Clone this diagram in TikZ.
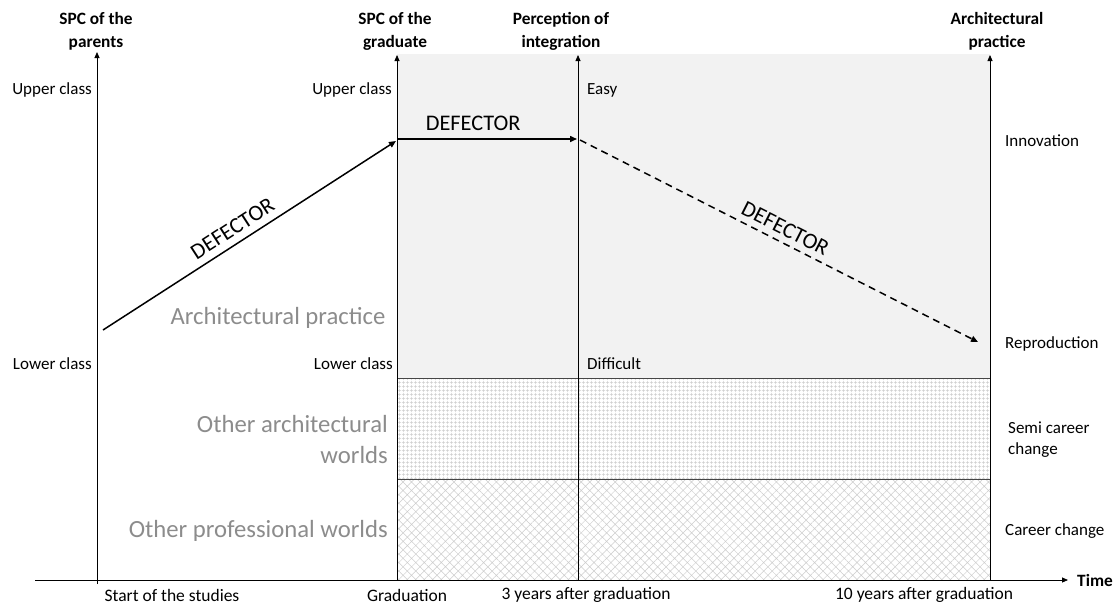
\documentclass[tikz,border=0pt]{standalone}
\usepackage{fontspec}
\setmainfont{Carlito}
\usetikzlibrary{arrows.meta,patterns.meta}
\definecolor{bggray}{RGB}{242,242,242}
\definecolor{lbl}{RGB}{140,140,140}
\definecolor{edge}{RGB}{70,70,70}
\definecolor{pat}{RGB}{205,205,205}
\begin{document}
\begin{tikzpicture}[x=1pt,y=-1pt,
  small/.style={font=\fontsize{17}{20}\selectfont, inner sep=0pt},
  bottom/.style={font=\fontsize{17.5}{20}\selectfont, inner sep=0pt},
  head/.style={font=\bfseries\fontsize{17.3}{23}\selectfont, align=center, inner sep=0pt},
  big/.style={font=\fontsize{24.7}{31}\selectfont, text=lbl, inner sep=0pt},
  deftext/.style={font=\fontsize{22.3}{24}\selectfont, inner sep=2pt},
  axis/.style={line width=0.8pt, -{Triangle[length=6pt,width=5pt]}},
  defect/.style={line width=1.5pt, -{Triangle[length=7pt,width=6pt]}},
  band/.style={edge, line width=1pt}]
\useasboundingbox (0,0) rectangle (1118,605);
% regions
\fill[bggray] (397,54) rectangle (990,378);
\fill[white] (397,378) rectangle (990,580);
\path[pattern={Hatch[angle=0,distance=4pt,line width=0.6pt]}, pattern color=pat] (397,378) rectangle (990,479);
\path[pattern={Hatch[angle=45,distance=6pt,line width=0.5pt]}, pattern color=pat] (397,479) rectangle (990,580);
\coordinate (b1l) at (397,378); \coordinate (b1r) at (990,378);
\coordinate (b2l) at (397,479); \coordinate (b2r) at (990,479);
\draw[band] (b1l) -- (b1r);
\draw[band] (b2l) -- (b2r);
% axes
\coordinate (t0) at (35,580); \coordinate (t1) at (1068,580);
\draw[axis] (t0) -- (t1);
\node[head, anchor=west] (time) at (1077,580) {Time};
\coordinate (p0) at (97,584); \coordinate (p1) at (97,52);
\coordinate (g0) at (397,580); \coordinate (g1) at (397,55);
\coordinate (i0) at (578,580); \coordinate (i1) at (578,55);
\coordinate (r0) at (990,580); \coordinate (r1) at (990,55);
\draw[axis] (p0) -- (p1);
\draw[axis] (g0) -- (g1);
\draw[axis] (i0) -- (i1);
\draw[axis] (r0) -- (r1);
% headers
\node[head] (hp) at (96,31) {SPC of the\\parents};
\node[head] (hg) at (395,31) {SPC of the\\graduate};
\node[head] (hi) at (561,31) {Perception of\\integration};
\node[head] (ha) at (997,31) {Architectural\\practice};
% side labels
\node[small, anchor=east] (up1) at (92,90) {Upper class};
\node[small, anchor=east] (lo1) at (92,364) {Lower class};
\node[small, anchor=east] (up2) at (392,90) {Upper class};
\node[small, anchor=east] (lo2) at (393,364) {Lower class};
\node[small, anchor=west] (easy) at (587,90) {Easy};
\node[small, anchor=west] (diff) at (587,364) {Difficult};
\node[small, anchor=west] (inno) at (1005,141) {Innovation};
\node[small, anchor=west] (repr) at (1005,344) {Reproduction};
\node[small, anchor=west, align=left, font=\fontsize{17}{21}\selectfont] (semi) at (1008,440) {Semi career\\change};
\node[small, anchor=west] (car) at (1005,531) {Career change};
% bottom labels
\node[bottom] (x1) at (172,595) {Start of the studies};
\node[bottom] (x2) at (407,595) {Graduation};
\node[bottom] (x3) at (586,595) {3 years after graduation};
\node[bottom] (x4) at (924,595) {10 years after graduation};
% big grey labels
\node[big] (ap) at (278,318) {Architectural practice};
\node[big, anchor=east, align=right] (oaw) at (388,440) {Other architectural\\worlds};
\node[big, anchor=east] (opw) at (388,531) {Other professional worlds};
% defector arrows
\coordinate (d0) at (103,330);
\coordinate (d1) at (396,141);
\coordinate (g2) at (398,139);
\coordinate (d2) at (577,139);
\coordinate (d3) at (580,140);
\coordinate (d4) at (978,342);
\draw[defect] (d0) -- node[deftext, sloped, above=5pt, pos=0.47] {DEFECTOR} (d1);
\draw[defect] (g2) -- node[deftext, above=6pt, pos=0.42] {DEFECTOR} (d2);
\draw[defect, dash pattern=on 7pt off 5pt] (d3) -- node[deftext, sloped, above=4pt, pos=0.5] {DEFECTOR} (d4);
\end{tikzpicture}
\end{document}
